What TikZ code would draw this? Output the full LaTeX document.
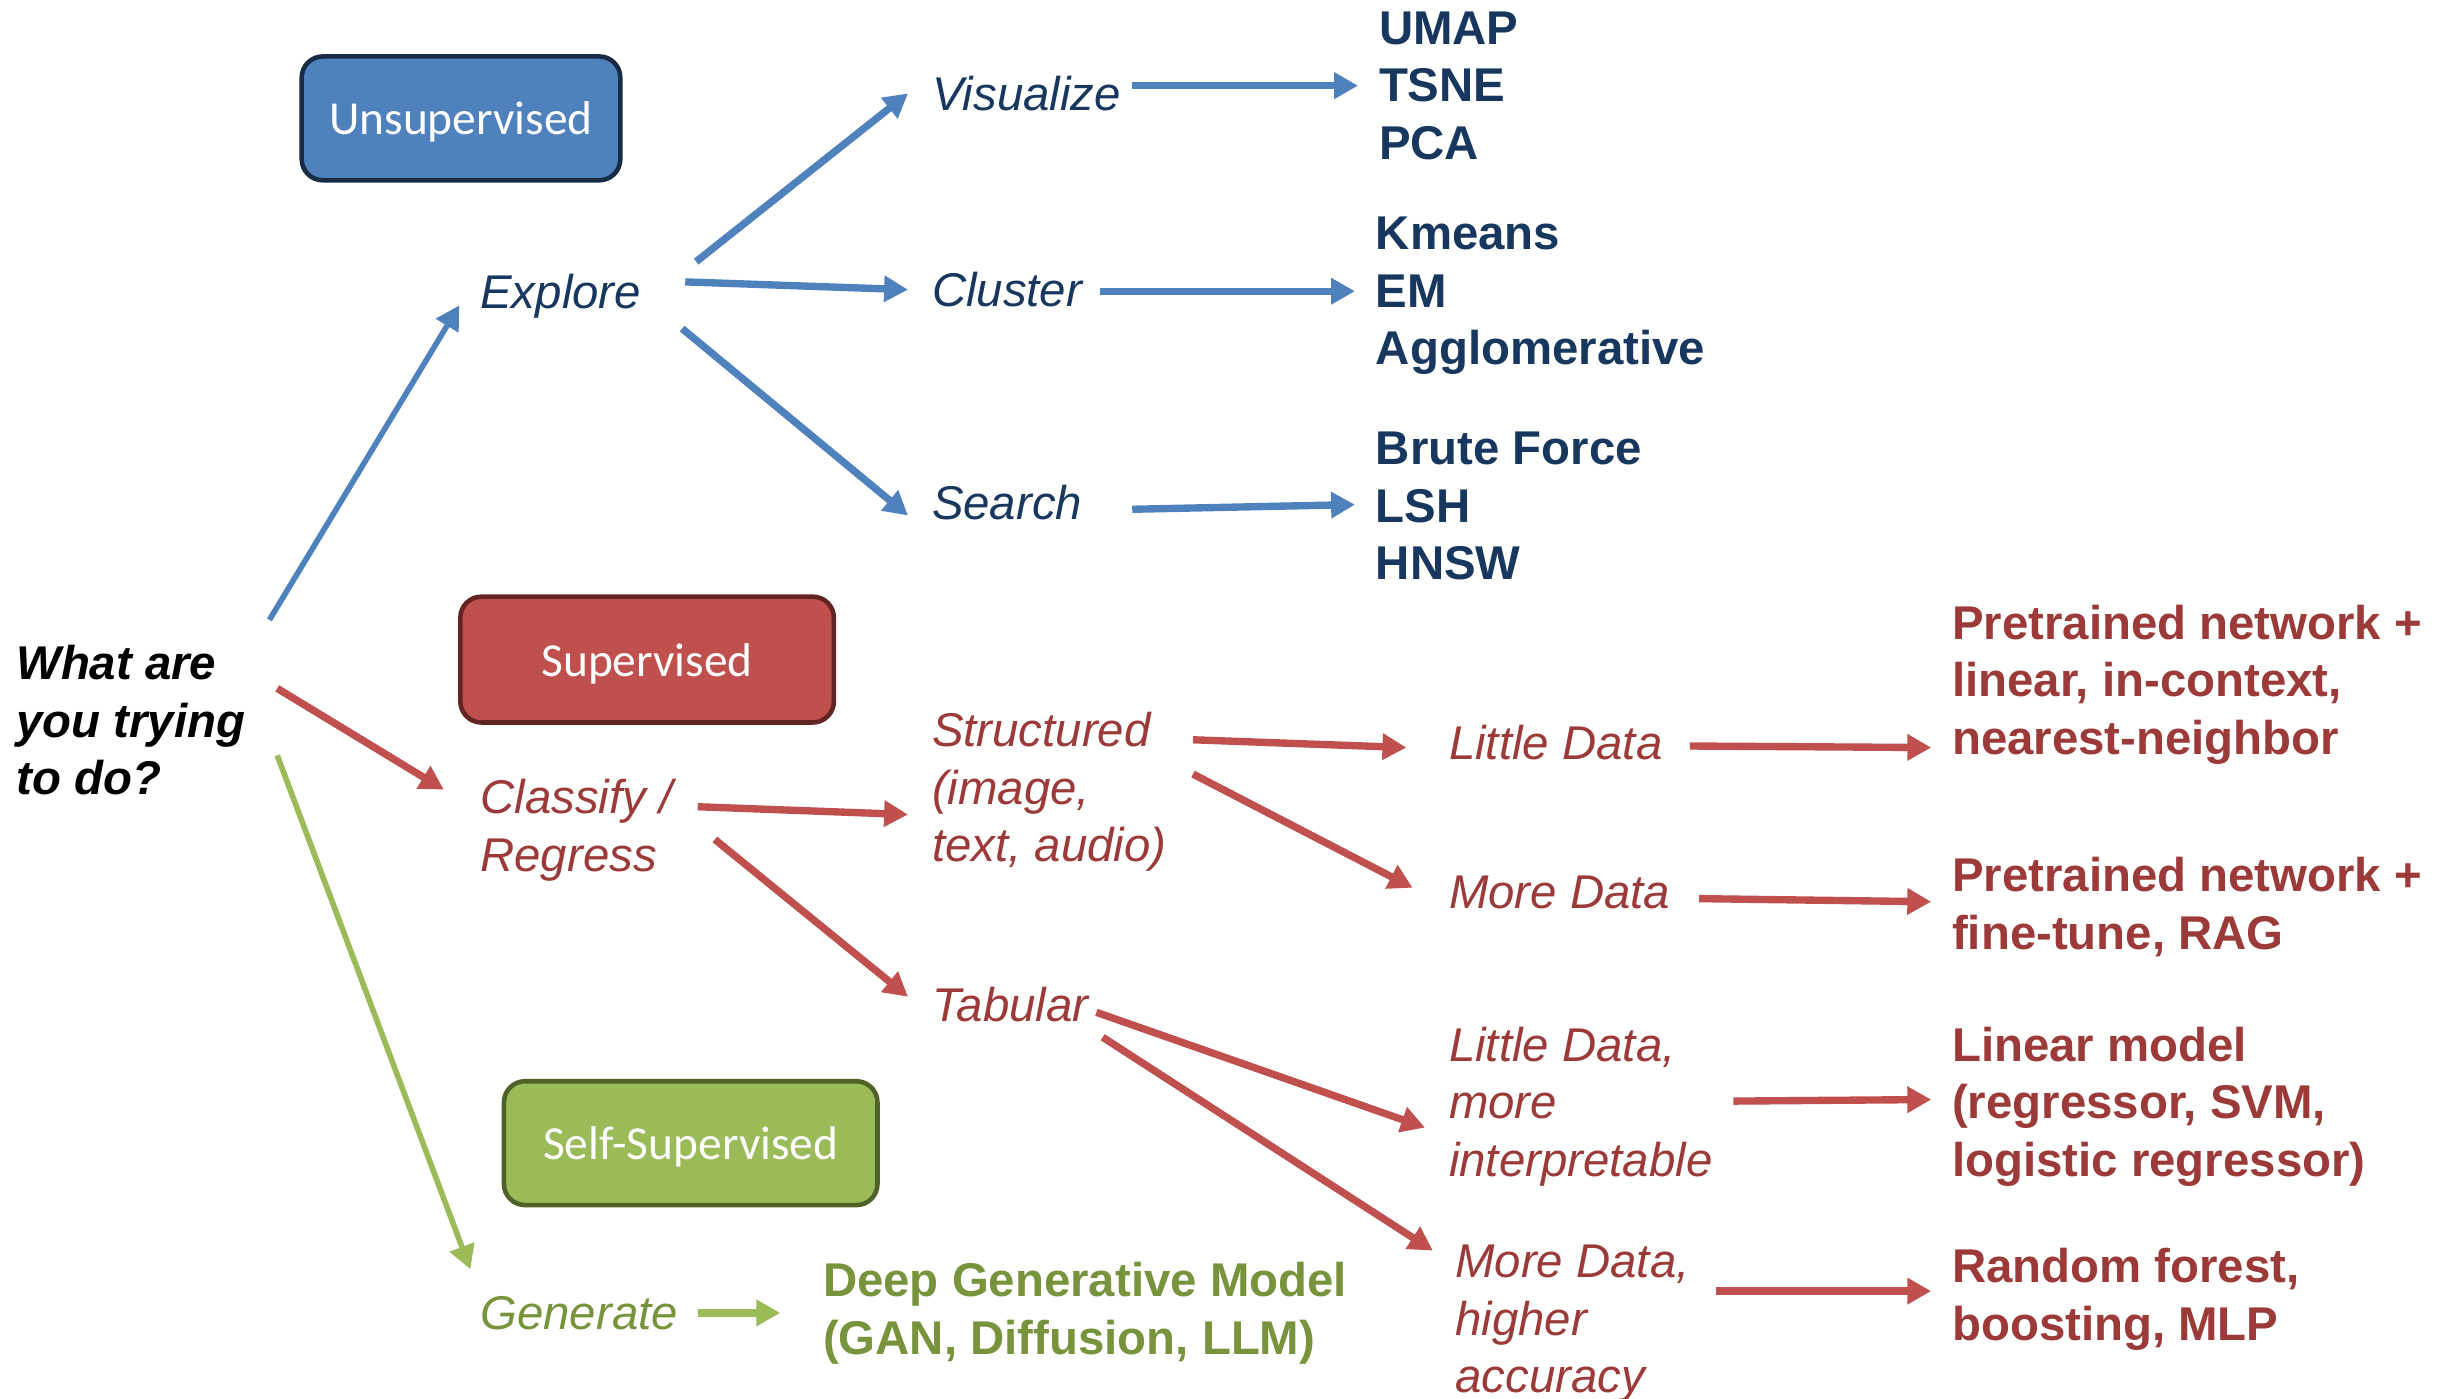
\documentclass[tikz,border=0pt]{standalone}
\usepackage{fontspec}
\setmainfont{Liberation Sans}
\newfontfamily\calibrifont{Carlito}
\usetikzlibrary{positioning,arrows.meta}

\definecolor{navytext}{HTML}{17375E}
\definecolor{bluearr}{HTML}{4F81BD}
\definecolor{blueedge}{HTML}{172B45}
\definecolor{redtext}{HTML}{9B3A38}
\definecolor{redarr}{HTML}{C0504D}
\definecolor{rededge}{HTML}{632523}
\definecolor{greentext}{HTML}{77933C}
\definecolor{greenarr}{HTML}{9BBB59}
\definecolor{greenedge}{HTML}{4F6228}

\begin{document}
\begin{tikzpicture}[x=0.0156cm,y=-0.0156cm,
    box/.style={draw,rounded corners=6pt,line width=1.3pt,minimum width=3.74cm,minimum height=1.24cm,text depth=0pt,text=white,font=\calibrifont\fontsize{13.5}{16}\selectfont},
    lbl/.style={inner sep=0pt,align=left,font=\fontsize{13.5}{16.4}\selectfont\itshape},
    item/.style={inner sep=0pt,align=left,font=\fontsize{13.5}{16.4}\selectfont\bfseries},
    arr/.style={-{Triangle[length=6.8pt,width=7.2pt]},line width=2.1pt},
    thinarr/.style={arr,line width=1.6pt}]
    \useasboundingbox (0,0) rectangle (1568,898);

    % Boites
    \node[box,fill=bluearr,draw=blueedge,minimum width=3.19cm] (unsup) at (296,76) {Unsupervised};
    \node[box,fill=redarr,draw=rededge,minimum height=1.26cm] (sup) at (415.5,423.5) {Supervised};
    \node[box,fill=greenarr,draw=greenedge] (selfsup) at (443.5,734) {Self-Supervised};

    % Question
    \node[item,font=\fontsize{13.5}{16.4}\selectfont\bfseries\itshape,anchor=north west] (q) at (10,414) {What are\\you trying\\to do?};

    % Non supervise
    \node[lbl,text=navytext,anchor=west] (explore) at (308,190) {Explore};
    \node[lbl,text=navytext,anchor=west] (visualize) at (598,60) {Visualize};
    \node[lbl,text=navytext,anchor=west] (cluster) at (598,186) {Cluster};
    \node[lbl,text=navytext,anchor=west] (search) at (598,323) {Search};
    \node[item,text=navytext,anchor=north west] (visitems) at (885,7) {UMAP\\TSNE\\PCA};
    \node[item,text=navytext,anchor=north west] (clusitems) at (883,139) {Kmeans\\EM\\Agglomerative};
    \node[item,text=navytext,anchor=north west] (searchitems) at (883,277) {Brute Force\\LSH\\HNSW};

    % Supervise
    \node[lbl,text=redtext,anchor=north west] (classify) at (308,500) {Classify /\\Regress};
    \node[lbl,text=redtext,anchor=north west] (structured) at (598,457) {Structured\\(image,\\text, audio)};
    \node[lbl,text=redtext,anchor=west] (tabular) at (598,645) {Tabular};
    \node[lbl,text=redtext,anchor=west] (littledata) at (930,477) {Little Data};
    \node[lbl,text=redtext,anchor=west] (moredata) at (930,573) {More Data};
    \node[lbl,text=redtext,anchor=north west] (littleinterp) at (930,659) {Little Data,\\more\\interpretable};
    \node[lbl,text=redtext,anchor=north west] (morehigher) at (934,799) {More Data,\\higher\\accuracy};
    \node[item,text=redtext,anchor=north west] (pretrainA) at (1253,388) {Pretrained network +\\linear, in-context,\\nearest-neighbor};
    \node[item,text=redtext,anchor=north west] (pretrainB) at (1253,550) {Pretrained network +\\fine-tune, RAG};
    \node[item,text=redtext,anchor=north west] (linmodel) at (1253,659) {Linear model\\(regressor, SVM,\\logistic regressor)};
    \node[item,text=redtext,anchor=north west] (forest) at (1253,801) {Random forest,\\boosting, MLP};

    % Auto-supervise
    \node[lbl,text=greentext,anchor=west] (generate) at (308,843) {Generate};
    \node[item,text=greentext,anchor=north west] (deepgen) at (528,810) {Deep Generative Model\\(GAN, Diffusion, LLM)};

    % Fleches bleues
    \draw[thinarr,bluearr] ([shift={(163,-16)}]q.north west) -- ([shift={(-13,6)}]explore.west);
    \draw[arr,bluearr] ([shift={(139,-22)}]explore.west) -- ([shift={(-15,0)}]visualize.west);
    \draw[arr,bluearr] ([shift={(132,-9)}]explore.west) -- ([shift={(-15,0)}]cluster.west);
    \draw[arr,bluearr] ([shift={(130,21)}]explore.west) -- ([shift={(-15,8)}]search.west);
    \draw[arr,bluearr] ([shift={(129,-5)}]visualize.west) -- ([shift={(-13,48)}]visitems.north west);
    \draw[arr,bluearr] ([shift={(108,1)}]cluster.west) -- ([shift={(-13,48)}]clusitems.north west);
    \draw[arr,bluearr] ([shift={(129,4)}]search.west) -- ([shift={(-13,47)}]searchitems.north west);

    % Fleches rouges
    \draw[arr,redarr] ([shift={(168,28)}]q.north west) -- ([shift={(-23,7)}]classify.north west);
    \draw[arr,redarr] ([shift={(140,18)}]classify.north west) -- ([shift={(-15,66)}]structured.north west);
    \draw[arr,redarr] ([shift={(151,39)}]classify.north west) -- ([shift={(-15,-5)}]tabular.west);
    \draw[arr,redarr] ([shift={(168,18)}]structured.north west) -- ([shift={(-27,3)}]littledata.west);
    \draw[arr,redarr] ([shift={(168,40)}]structured.north west) -- ([shift={(-23,-3)}]moredata.west);
    \draw[arr,redarr] ([shift={(155,2)}]littledata.west) -- ([shift={(-13,92)}]pretrainA.north west);
    \draw[arr,redarr] ([shift={(161,4)}]moredata.west) -- ([shift={(-13,29)}]pretrainB.north west);
    \draw[arr,redarr] ([shift={(106,5)}]tabular.west) -- ([shift={(-15,65)}]littleinterp.north west);
    \draw[arr,redarr] ([shift={(110,21)}]tabular.west) -- ([shift={(-14,4)}]morehigher.north west);
    \draw[arr,redarr] ([shift={(183,48)}]littleinterp.north west) -- ([shift={(-13,47)}]linmodel.north west);
    \draw[arr,redarr] ([shift={(168,30)}]morehigher.north west) -- ([shift={(-13,28)}]forest.north west);

    % Fleches vertes
    \draw[thinarr,greenarr] ([shift={(168,71)}]q.north west) -- ([shift={(-6,-28)}]generate.west);
    \draw[arr,greenarr] ([shift={(140,0)}]generate.west) -- ([shift={(-27,33)}]deepgen.north west);
\end{tikzpicture}
\end{document}
